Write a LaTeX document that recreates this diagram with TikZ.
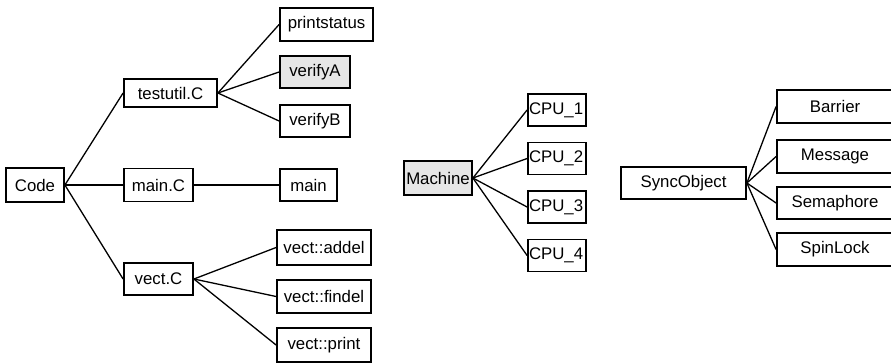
\documentclass[tikz,border=0pt]{standalone}
\usepackage{fontspec}
\setmainfont{Liberation Sans}
\definecolor{boxgray}{HTML}{E6E6E6}
\begin{document}
\begin{tikzpicture}[x=1bp,y=-1bp,
  box/.style={draw, line width=1.8bp, inner sep=0pt, fill=white,
    font=\fontsize{16.8bp}{19bp}\selectfont},
  graybox/.style={box, fill=boxgray},
  conn/.style={line width=1.3bp},
  cpubox/.style={box, text width=56bp, align=left, inner xsep=1bp, minimum height=32bp}]
\useasboundingbox (0,0) rectangle (891,363);
\clip (0,0) rectangle (891,363);
% left tree
\node[box, minimum width=58bp, minimum height=34bp] (code) at (35,185) {Code};
\node[box, minimum width=93bp, minimum height=28bp] (testutil) at (170.5,93) {testutil.C};
\node[box, minimum width=69bp, minimum height=33bp] (mainC) at (158.5,185) {main.C};
\node[box, minimum width=69bp, minimum height=32bp] (vectC) at (158.5,279) {vect.C};
\node[box, minimum width=93bp, minimum height=33bp] (printstatus) at (326.5,24.5) {printstatus};
\node[graybox, minimum width=70bp, minimum height=32bp] (verifyA) at (315,72) {verifyA};
\node[box, minimum width=70bp, minimum height=32bp] (verifyB) at (315,121) {verifyB};
\node[box, minimum width=57bp, minimum height=32bp] (main) at (308.5,185) {main};
\node[box, minimum width=94bp, minimum height=35bp] (addel) at (324,247.5) {vect::addel};
\node[box, minimum width=94bp, minimum height=33bp] (findel) at (324,296.5) {vect::findel};
\node[box, minimum width=94bp, minimum height=34bp] (vprint) at (324,345) {vect::print};
\draw[conn] (code.east) -- (testutil.west);
\draw[conn] (code.east) -- (mainC.west);
\draw[conn] (code.east) -- (vectC.west);
\draw[conn] (testutil.east) -- (printstatus.west);
\draw[conn] (testutil.east) -- (verifyA.west);
\draw[conn] (testutil.east) -- (verifyB.west);
\draw[conn] (mainC.east) -- (main.west);
\draw[conn] (vectC.east) -- (addel.west);
\draw[conn] (vectC.east) -- (findel.west);
\draw[conn] (vectC.east) -- (vprint.west);
% machine
\node[graybox, minimum width=68bp, minimum height=34bp] (machine) at (438,178) {Machine};
\node[cpubox] (cpu1) at (557,110) {CPU\_1};
\node[cpubox] (cpu2) at (557,158.5) {CPU\_2};
\node[cpubox] (cpu3) at (557,207) {CPU\_3};
\node[cpubox] (cpu4) at (557,255.5) {CPU\_4};
\foreach \c in {cpu1,cpu2,cpu3,cpu4}
  \draw[conn] (machine.east) -- (\c.west);
% syncobject
\node[box, minimum width=125bp, minimum height=32bp] (sync) at (683.5,183) {SyncObject};
\node[box, minimum width=116bp, minimum height=33bp] (barrier) at (835,106.5) {Barrier};
\node[box, minimum width=116bp, minimum height=33bp] (message) at (835,156.5) {Message};
\node[box, minimum width=116bp, minimum height=32bp] (semaphore) at (835,203) {Semaphore};
\node[box, minimum width=116bp, minimum height=33bp] (spinlock) at (835,249.5) {SpinLock};
\foreach \c in {barrier,message,semaphore,spinlock}
  \draw[conn] (sync.east) -- (\c.west);
\end{tikzpicture}
\end{document}
